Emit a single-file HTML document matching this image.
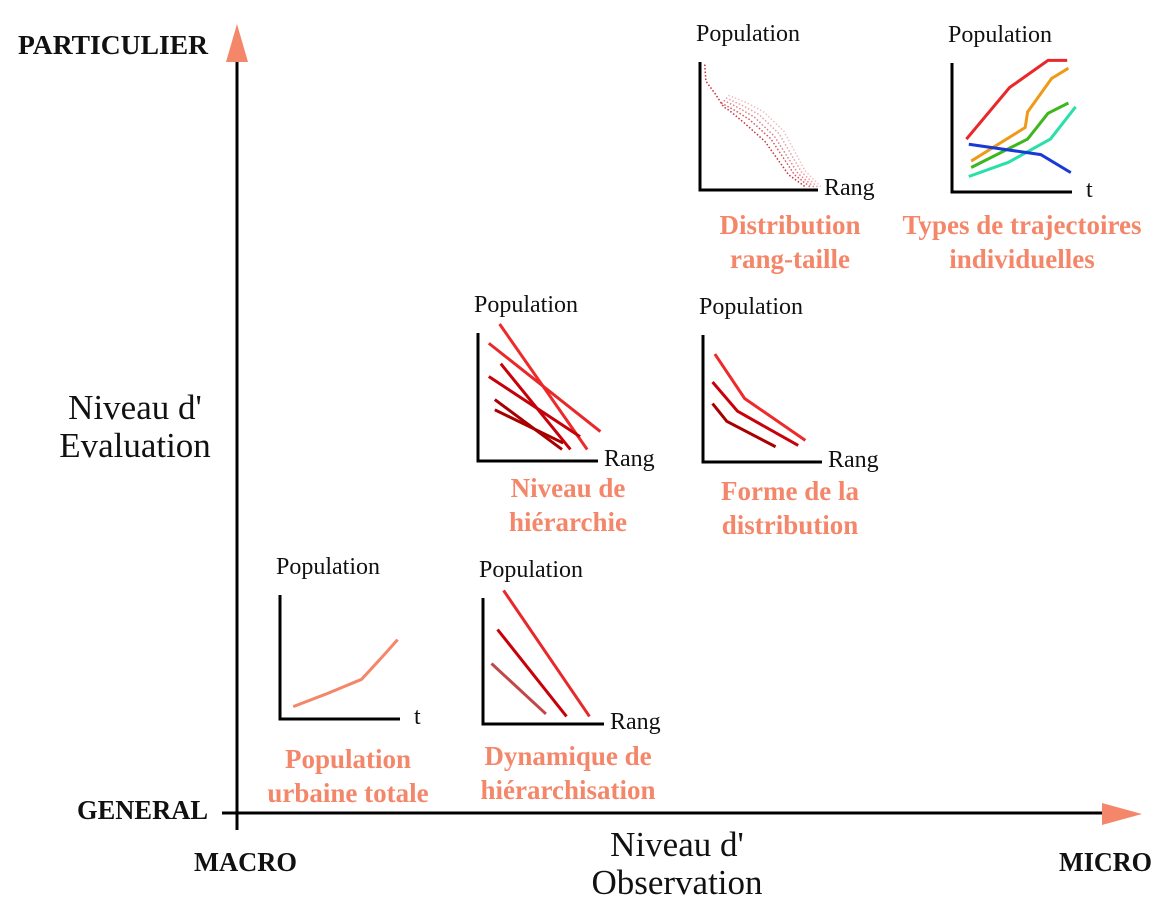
<!DOCTYPE html>
<html><head><meta charset="utf-8"><style>
html,body{margin:0;padding:0;background:#fff}
svg{display:block}
text{font-family:"Liberation Serif",serif}
.lbl{fill:#f4876a;font-weight:bold;font-size:27px;text-anchor:middle}
.pop{font-size:24px;fill:#111}
.cap{font-weight:bold;font-size:27px;fill:#111}
.big{font-size:35px;fill:#111;text-anchor:middle}
</style></head><body>
<svg id="s" width="1170" height="900" viewBox="0 0 1170 900">
<g>
<line x1="237" y1="58" x2="237" y2="830" stroke="#000" stroke-width="3"/>
<polygon points="237,24 226,62 248,62" fill="#f4876a"/>
<line x1="222" y1="813" x2="1104" y2="813" stroke="#000" stroke-width="3"/>
<polygon points="1142,814 1102,803 1102,825" fill="#f4876a"/>
</g>
<text x="18" y="54" class="cap" textLength="190" lengthAdjust="spacingAndGlyphs">PARTICULIER</text>
<text x="77" y="819" class="cap" textLength="131" lengthAdjust="spacingAndGlyphs">GENERAL</text>
<text x="194" y="871" class="cap" textLength="103" lengthAdjust="spacingAndGlyphs">MACRO</text>
<text x="1059" y="871" class="cap" textLength="93" lengthAdjust="spacingAndGlyphs">MICRO</text>
<text x="135" y="419" class="big">Niveau d'<tspan x="135" dy="38">Evaluation</tspan></text>
<text x="677" y="856" class="big">Niveau d'<tspan x="677" dy="38">Observation</tspan></text>
<g id="panels"></g>
</svg>
<script>
// Each panel: frame + series in 0..100 coordinates (x right, y up)
const panelNames = ['population-urbaine','dynamique-hierarchisation','niveau-hierarchie','forme-distribution','distribution-rang-taille','types-trajectoires'];
const panelFrames = [[280,595,719,400],[483,598,724,604],[478,333,461,598],[703,335,462,822],[700,62,190,818],[952,63,192,1072]];
const panelAxisLabels = ['t','Rang','Rang','Rang','Rang','t'];
const panelTitles = [['Population','urbaine totale'],['Dynamique de','hiérarchisation'],['Niveau de','hiérarchie'],['Forme de la','distribution'],['Distribution','rang-taille'],['Types de trajectoires','individuelles']];
const titleCenters = [348,568,568,790,790,1022];
const titleY = [770,767,499,502,236,236];
const s1 = [[[11,10],[38,20],[68,32],[87,52],[98,64]]];
const s1c = ['#f4876a'];
const s2 = [[[17,106],[88,6]],[[12,75],[69,6]],[[7,48],[52,8]]];
const s2c = ['#e8282a','#c8000a','#c04848'];
const s3 = [[[18,107],[91,9]],[[9,92],[102,23]],[[19,76],[77,9]],[[9,66],[85,19]],[[14,48],[70,9]],[[14,40],[71,14]]];
const s3c = ['#ee2a2a','#e8282a','#c8000a','#c4000a','#a80000','#a80000'];
const s4 = [[[10,85],[35,50],[86,17]],[[8,63],[29,40],[80,13]],[[8,46],[20,32],[61,12]]];
const s4c = ['#ee2a2a','#c8000a','#a80000'];
const s5 = [[[4,98],[5,85],[13,75],[20,65],[25,62],[38,52],[55,38],[75,12],[90,2]],[[18,68],[30,62],[42,55],[60,40],[80,12],[94,2]],[[20,70],[33,64],[46,57],[63,42],[83,13],[97,2]],[[22,72],[36,66],[50,59],[67,44],[86,14],[100,2]],[[24,74],[40,68],[54,61],[71,46],[89,15],[103,2]]];
const s5c = ['#c8303a','#d45860','#df8088','#e8a0a6','#f0c0c4'];
const s6 = [[[12,41],[48,81],[80,102],[96,102]],[[16,24],[61,50],[63,62],[83,88],[97,96]],[[16,19],[63,41],[80,61],[97,69]],[[14,12],[47,23],[82,41],[103,66]],[[14,37],[74,29],[99,15]]];
const s6c = ['#e8282a','#ee9a18','#3cb81c','#28e0a8','#1838d8'];
const seriesAll=[s1,s2,s3,s4,s5,s6], colorsAll=[s1c,s2c,s3c,s4c,s5c,s6c];
const NS='http://www.w3.org/2000/svg', root=document.getElementById('panels');
function mk(tag,at,parent){const e=document.createElementNS(NS,tag);for(const k in at)e.setAttribute(k,at[k]);parent.appendChild(e);return e;}
panelFrames.forEach((f,i)=>{
  const [ax,top,bot,right]=f;
  const g=mk('g',{},root);
  
  
  const X=v=>ax+v/100*(right-ax), Y=v=>bot-v/100*(bot-top);
  const t=mk('text',{x:ax-4,y:top-21,class:'pop'},g); t.textContent='Population';
  
  
  const ax1=mk('polyline',{points:`${ax},${top} ${ax},${bot} ${right},${bot}`,fill:'none',stroke:'#000','stroke-width':3},g);
  
  
  const xl=mk('text',{x:panelAxisLabels[i]==='t'?right+14:right+6,y:bot+5,class:'pop'},g); xl.textContent=panelAxisLabels[i];
  
  
  seriesAll[i].forEach((ser,j)=>{
    const p=mk('polyline',{points:ser.map(q=>X(q[0])+','+Y(q[1])).join(' '),fill:'none',stroke:colorsAll[i][j],'stroke-width':i===4?1.5:3,'stroke-dasharray':i===4?'1.5 2':'none'},g);
    
    
  });
  const tt=mk('text',{x:titleCenters[i],y:titleY[i]-2,class:'lbl'},g);
  
  
  const a=mk('tspan',{x:titleCenters[i]},tt); a.textContent=panelTitles[i][0];
  const b=mk('tspan',{x:titleCenters[i],dy:34},tt); b.textContent=panelTitles[i][1];
});
</script>
</body></html>
